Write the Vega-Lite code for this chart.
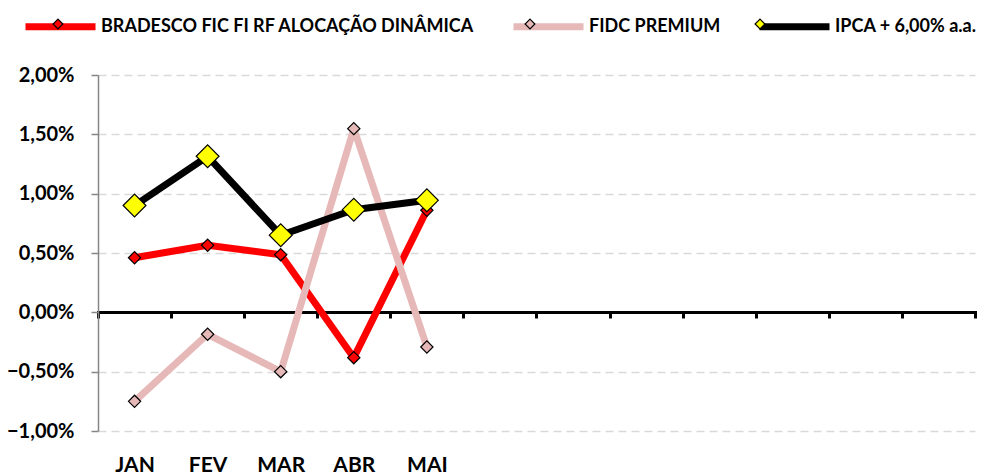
{
  "$schema": "https://vega.github.io/schema/vega-lite/v6.json",
  "width": 877,
  "height": 356,
  "autosize": {"type": "none"},
  "padding": {"left": 98, "top": 75, "right": 9, "bottom": 43},
  "config": {
    "locale": {"number": {"decimal": ",", "thousands": ".", "grouping": [3], "currency": ["R$", ""]}},
    "view": {"stroke": null},
    "font": "Lato"
  },
  "data": {
    "values": [
      {"mes": "JAN", "serie": "BRADESCO FIC FI RF ALOCAÇÃO DINÂMICA", "valor": 0.0046},
      {"mes": "FEV", "serie": "BRADESCO FIC FI RF ALOCAÇÃO DINÂMICA", "valor": 0.00565},
      {"mes": "MAR", "serie": "BRADESCO FIC FI RF ALOCAÇÃO DINÂMICA", "valor": 0.00486},
      {"mes": "ABR", "serie": "BRADESCO FIC FI RF ALOCAÇÃO DINÂMICA", "valor": -0.00382},
      {"mes": "MAI", "serie": "BRADESCO FIC FI RF ALOCAÇÃO DINÂMICA", "valor": 0.0086},
      {"mes": "JAN", "serie": "FIDC PREMIUM", "valor": -0.0075},
      {"mes": "FEV", "serie": "FIDC PREMIUM", "valor": -0.00185},
      {"mes": "MAR", "serie": "FIDC PREMIUM", "valor": -0.005},
      {"mes": "ABR", "serie": "FIDC PREMIUM", "valor": 0.01548},
      {"mes": "MAI", "serie": "FIDC PREMIUM", "valor": -0.00292},
      {"mes": "JAN", "serie": "IPCA + 6,00% a.a.", "valor": 0.009},
      {"mes": "FEV", "serie": "IPCA + 6,00% a.a.", "valor": 0.01315},
      {"mes": "MAR", "serie": "IPCA + 6,00% a.a.", "valor": 0.0065},
      {"mes": "ABR", "serie": "IPCA + 6,00% a.a.", "valor": 0.00865},
      {"mes": "MAI", "serie": "IPCA + 6,00% a.a.", "valor": 0.00944}
    ]
  },
  "encoding": {
    "x": {
      "field": "mes", "type": "nominal", "sort": null,
      "scale": {"type": "band", "domain": ["JAN","FEV","MAR","ABR","MAI","JUN","JUL","AGO","SET","OUT","NOV","DEZ"], "paddingInner": 0, "paddingOuter": 0},
      "axis": {
        "title": null, "orient": "bottom", "offset": -119,
        "domainColor": "black", "domainWidth": 3, "domainCap": "square",
        "tickColor": "black", "tickWidth": 3, "tickSize": 6, "tickBand": "extent",
        "labelPadding": 136, "labelFont": "Lato", "labelFontSize": 21, "labelFontWeight": "bold", "labelColor": "black", "labelAngle": 0,
        "labelExpr": "indexof(['JAN','FEV','MAR','ABR','MAI'], datum.value) >= 0 ? datum.value : ''",
        "grid": false
      }
    },
    "y": {
      "field": "valor", "type": "quantitative",
      "scale": {"domain": [-0.01, 0.02], "nice": false, "zero": false},
      "axis": {
        "title": null, "format": ".2%", "values": [-0.01, -0.005, 0, 0.005, 0.01, 0.015, 0.02],
        "domainColor": "#868686", "domainWidth": 1.5,
        "tickColor": "#868686", "tickWidth": 1.5, "tickSize": 7,
        "labelPadding": 17, "labelFont": "Lato", "labelFontSize": 20, "labelFontWeight": "bold", "labelColor": "black",
        "grid": true, "gridColor": "#d9d9d9", "gridDash": [8, 5], "gridWidth": 1.5
      }
    }
  },
  "layer": [
    {
      "mark": {"type": "line", "strokeWidth": 7, "strokeCap": "round", "strokeJoin": "round"},
      "encoding": {
        "stroke": {
          "field": "serie", "type": "nominal",
          "scale": {"domain": ["BRADESCO FIC FI RF ALOCAÇÃO DINÂMICA", "FIDC PREMIUM", "IPCA + 6,00% a.a."], "range": ["#ff0000", "#e6b9b8", "#000000"]},
          "legend": {
            "orient": "none", "legendX": -76, "legendY": -87, "direction": "horizontal", "title": null,
            "symbolType": "stroke", "symbolSize": 4900, "symbolStrokeWidth": 7,
            "labelFont": "Lato", "labelFontSize": 18, "labelFontWeight": "bold", "labelColor": "black", "labelLimit": 0,
            "labelOffset": 2, "columnPadding": 24, "zindex": 0
          }
        }
      }
    },
    {
      "mark": {"type": "point", "filled": true, "shape": "diamond", "stroke": "black", "strokeWidth": 1.2, "opacity": 1},
      "encoding": {
        "fill": {
          "field": "serie", "type": "nominal",
          "scale": {"range": ["#ff0000", "#e6b9b8", "#ffff00"]},
          "legend": {
            "orient": "none", "legendX": -76, "legendY": -87, "direction": "horizontal", "title": null,
            "symbolType": "M0,-0.14L0.14,0L0,0.14L-0.14,0Z", "symbolSize": 4900, "symbolStrokeWidth": 1.2, "symbolStrokeColor": "black",
            "labelFont": "Lato", "labelFontSize": 18, "labelFontWeight": "bold", "labelColor": "black", "labelLimit": 0, "labelOpacity": 0,
            "labelOffset": 2, "columnPadding": 24, "zindex": 1
          }
        },
        "size": {"condition": {"test": "datum.serie == 'IPCA + 6,00% a.a.'", "value": 520}, "value": 150}
      }
    }
  ]
}
